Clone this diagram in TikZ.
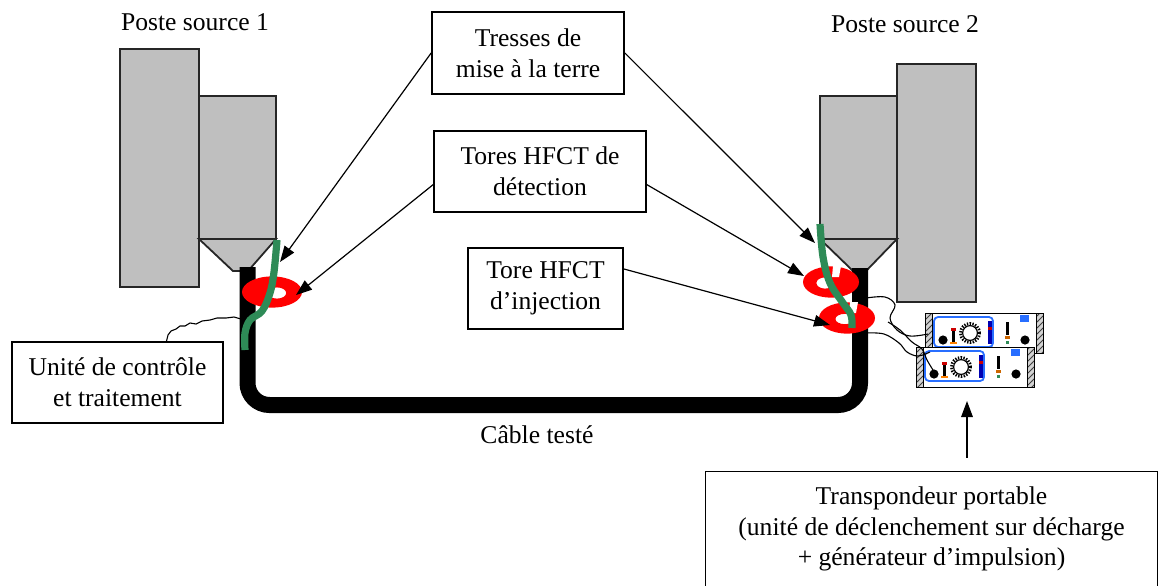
\documentclass[tikz,border=0pt]{standalone}
\usepackage{fontspec}
\setmainfont{Liberation Serif}
\usetikzlibrary{arrows.meta,patterns,calc}
\definecolor{stationgray}{RGB}{191,191,191}
\definecolor{braid}{RGB}{46,139,87}
\definecolor{panelblue}{RGB}{40,110,255}
\tikzset{
  rack/.pic={
    % one rack unit of the portable transponder, 118 x 40 units
    \draw[line width=0.5pt, fill=white] (0,0) rectangle (118,40);
    \fill[gray!35] (0,0) rectangle (7,40) (111,0) rectangle (118,40);
    \fill[pattern=north east lines, pattern color=black!75] (0,0) rectangle (7,40) (111,0) rectangle (118,40);
    \draw[line width=0.4pt] (0,0) rectangle (7,40) (111,0) rectangle (118,40);
    \draw[panelblue, line width=0.9pt, rounded corners=2pt] (9,4) rectangle (68,34);
    \fill[blue!70!black] (63,8) rectangle (67,31);
    \fill[red!80!black] (63,14) rectangle (67,17);
    \draw[line width=1.4pt, dash pattern=on 0.7pt off 0.7pt] (45,20) circle (4.8pt);
    \draw[line width=0.6pt, fill=white] (45,20) circle (3.7pt);
    \fill (18,27) circle (2.3pt);
    \fill (27,18) rectangle (30,29);
    \fill[red!80!black] (26,15) rectangle (31,18);
    \fill[orange] (25,29) rectangle (32,31);
    \fill (100,27) circle (2.3pt);
    \fill (81,9) rectangle (84,22);
    \fill[orange!80!black] (80,23) rectangle (85,26);
    \fill[braid] (81,28) rectangle (84,31);
    \fill[panelblue] (95,2) rectangle (104,9);
  }
}
\begin{document}
\begin{tikzpicture}[x=0.5pt,y=-0.5pt,
  lbl/.style={font=\fontsize{12.8pt}{15.3pt}\selectfont, inner sep=0pt, align=center},
  box/.style={lbl, draw, line width=0.85pt, fill=white},
  station/.style={fill=stationgray, draw=black!85, line width=0.9pt, line join=miter},
  arr/.style={line width=0.6pt, -{Triangle[length=8pt,width=5.8pt]}},
  wire/.style={line width=0.55pt, black},
  braidwire/.style={braid, line width=3.6pt},
  torus/.style={fill=red, even odd rule}]
\useasboundingbox (0,0) rectangle (1159,585);
\fill[white] (0,0) rectangle (1159,585);

% --- source substation 1
\draw[station] (120,49) rectangle (199,287);
\draw[station] (199,96) rectangle (276,239);
\draw[station] (199,239) -- (276,239) -- (248,271) -- (233,271) -- cycle;

% --- source substation 2
\draw[station] (897,64) rectangle (976,302);
\draw[station] (820,96) rectangle (897,239);
\draw[station] (820,239) -- (897,239) -- (867,270) -- (852,270) -- cycle;

% --- tested cable
\draw[line width=8pt, rounded corners=11pt] (247.5,267) -- (247.5,405) -- (860,405) -- (860,268);

% --- HFCT toroids
\fill[torus] (272,292) ellipse [x radius=15pt, y radius=7.8pt]
             (277,293) ellipse [x radius=4.6pt, y radius=2.8pt];
\fill[torus] (831,282) ellipse [x radius=14pt, y radius=7.8pt]
             (825,283) ellipse [x radius=4.3pt, y radius=2.8pt];
\fill[torus] (847,318) ellipse [x radius=14pt, y radius=7.8pt]
             (845,319) ellipse [x radius=4.8pt, y radius=2.6pt];
\fill[white] (833,266) -- (841,266) -- (839,277) -- (832,277) -- cycle;
\fill[white] (850,302) -- (858,302) -- (856,313) -- (849,313) -- cycle;

% --- earthing braids
\draw[braidwire] plot[smooth, tension=0.6] coordinates
  {(277,240) (274,272) (270,293) (262,311) (250,320) (245,333) (245,350)};
\draw[braidwire] plot[smooth, tension=0.6] coordinates
  {(820,224) (823,257) (830,283) (843,303) (851,315) (852,328)};

% --- labels
\node[lbl] (ps1) at (195,22) {Poste source 1};
\node[lbl] (ps2) at (905,24) {Poste source 2};
\node[lbl] (cable) at (537,435) {Câble testé};

\node[box, minimum width=96pt, minimum height=41pt] (tresses) at (528,53)
  {Tresses de\\mise à la terre};
\node[box, minimum width=106pt, minimum height=40.5pt] (detect) at (540,171.5)
  {Tores HFCT de\\détection};
\node[box, minimum width=77.5pt, minimum height=40.5pt] (inject) at (545.5,288.5)
  {Tore HFCT\\d’injection};
\node[box, minimum width=105.5pt, minimum height=40.5pt] (unite) at (117.5,382.5)
  {Unité de contrôle\\et traitement};
\node[lbl, minimum width=225.5pt, minimum height=57pt] (transp) at (931.5,529)
  {Transpondeur portable\\(unité de déclenchement sur décharge\\+ générateur d’impulsion)};
% its frame runs on past the lower edge of the sheet
\draw[line width=0.85pt] ($(transp.south west)+(0,14)$) rectangle (transp.north east);

% --- arrow targets
\coordinate (braidL) at (280,262);
\coordinate (braidR) at (815,243);
\coordinate (torL) at (296,295);
\coordinate (torR) at (804,276);
\coordinate (torInj) at (830,325);
\coordinate (dev) at (967,401);
\coordinate (cabL) at (241,319);

\draw[arr] (tresses.west) -- (braidL);
\draw[arr] (tresses.east) -- (braidR);
\draw[arr] (detect.187) -- (torL);
\draw[arr] (detect.353) -- (torR);
\draw[arr] (inject.14) -- (torInj);
\draw[arr, shorten <=7pt] (transp.north -| dev) -- (dev);

% --- signal lead from the control unit to the cable
\draw[wire] ($(unite.north)+(49,0)$) -- (168,335) -- (171,331) -- (176,329) -- (180,326)
  -- (185,326) -- (190,323) -- (196,324) -- (202,321) -- (210,320) -- (217,318)
  -- (226,318) -- (234,317) -- (cabL);

% --- portable transponder
\pic at (925,313) {rack};
\pic at (916,347) {rack};

% --- leads from the toroids to the transponder
\draw[wire] plot[smooth, tension=0.6] coordinates
  {(866,298) (885,297) (895,305) (890,318) (897,330) (910,336) (928,334)};
\draw[wire] plot[smooth, tension=0.6] coordinates
  {(866,333) (884,334) (899,343) (907,352) (918,356) (930,352)};
\draw[wire] plot[smooth, tension=0.6] coordinates
  {(888,322) (900,330) (912,342) (922,349) (927,360) (933,370)};
\end{tikzpicture}
\end{document}
